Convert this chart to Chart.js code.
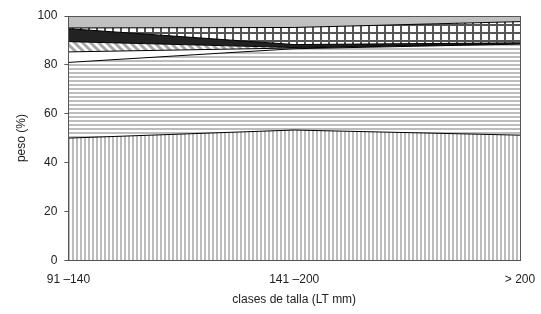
<!DOCTYPE html>
<html>
<head>
<meta charset="utf-8">
<script src="https://cdn.jsdelivr.net/npm/chart.js@4/dist/chart.umd.min.js"></script>
<style>
  html, body { margin: 0; padding: 0; background: #fff; }
  #wrap { width: 541px; height: 314px; }
</style>
</head>
<body>
<div id="wrap"><canvas id="myChart" width="541" height="314"></canvas></div>
<script>
'use strict';

// clases de talla
let categories = ['91 –140', '141 –200', '> 200'];

// peso (%) of each layer, bottom to top
let vertical = [50.0, 53.3, 51.2];
let horizontal = [31.0, 33.3, 37.3];
let blank = [4.3, 0.3, 0.1];
let hatched = [4.2, 0.2, 0.1];
let solid = [5.3, 1.2, 0.3];
let squares = [0.3, 7.0, 8.7];
let grey = [4.9, 4.7, 2.3];

let yTicks = [0, 20, 40, 60, 80, 100];


function makePattern(w, h, draw) {
    let c = document.createElement('canvas');
    c.width = w;
    c.height = h;
    let g = c.getContext('2d');
    g.fillStyle = '#fff';
    g.fillRect(0, 0, w, h);
    draw(g);
    return document.getElementById('myChart').getContext('2d').createPattern(c, 'repeat');
}

let vPattern = makePattern(4, 4, function (g) {
    g.fillStyle = '#bcbcbc';
    g.fillRect(0, 0, 2, 4);
});

let hPattern = makePattern(4, 4, function (g) {
    g.fillStyle = '#bcbcbc';
    g.fillRect(0, 0, 4, 2);
});

let dPattern = makePattern(8, 8, function (g) {
    g.strokeStyle = '#a8a8a8';
    g.lineWidth = 3;
    g.beginPath();
    g.moveTo(-1, -1); g.lineTo(9, 9);
    g.moveTo(-9, -1); g.lineTo(1, 9);
    g.moveTo(7, -1); g.lineTo(17, 9);
    g.stroke();
});

let gPattern = makePattern(8, 8, function (g) {
    g.fillStyle = '#555';
    g.fillRect(0, 0, 2, 8);
    g.fillRect(0, 0, 8, 2);
});

function layer(label, data, fill, bg) {
    return {
        label: label,
        data: data,
        fill: fill,
        backgroundColor: bg,
        borderColor: '#000',
        borderWidth: 1,
        pointRadius: 0,
        tension: 0
    };
}

let frame = {
    id: 'frame',
    afterDatasetsDraw(chart) {
        let a = chart.chartArea;
        let ctx = chart.ctx;
        ctx.save();
        ctx.strokeStyle = '#555';
        ctx.lineWidth = 1;
        ctx.strokeRect(Math.round(a.left) + 0.5, Math.round(a.top) + 0.5,
            Math.round(a.right - a.left), Math.round(a.bottom - a.top));
        ctx.restore();
    }
};

let ctx = document.getElementById('myChart').getContext('2d');

let myChart = new Chart(ctx, {
    type: 'line',
    data: {
        labels: categories,
        datasets: [
            layer('vertical', vertical, 'origin', vPattern),
            layer('horizontal', horizontal, '-1', hPattern),
            layer('blank', blank, '-1', '#fff'),
            layer('hatched', hatched, '-1', dPattern),
            layer('solid', solid, '-1', '#222'),
            layer('squares', squares, '-1', gPattern),
            layer('grey', grey, '-1', '#c0c0c0')
        ]
    },
    options: {
        responsive: false,
        animation: false,
        layout: { padding: { top: 16, right: 0, left: 14, bottom: 7 } },
        plugins: {
            legend: { display: false },
            tooltip: { enabled: false }
        },
        scales: {
            x: {
                offset: false,
                afterFit(axis) {
                    axis.paddingRight = 21;
                },
                grid: { drawOnChartArea: false, drawTicks: false },
                border: { color: '#555' },
                ticks: {
                    color: '#222',
                    padding: 12,
                    maxRotation: 0,
                    font: { family: 'Liberation Sans', size: 12 }
                },
                title: {
                    display: true,
                    text: 'clases de talla (LT mm)',
                    color: '#222',
                    padding: { top: -6, bottom: 0 },
                    font: { family: 'Liberation Sans', size: 12 }
                }
            },
            y: {
                stacked: true,
                min: 0,
                max: 100,
                afterBuildTicks(axis) {
                    axis.ticks = yTicks.map(v => ({ value: v }));
                },
                grid: { drawOnChartArea: false, drawTicks: true, tickLength: 4, color: '#555' },
                border: { color: '#555' },
                ticks: {
                    color: '#222',
                    padding: 7,
                    font: { family: 'Liberation Sans', size: 12 }
                },
                title: {
                    display: true,
                    text: 'peso (%)',
                    color: '#222',
                    padding: { top: 0, bottom: 2 },
                    font: { family: 'Liberation Sans', size: 12 }
                }
            }
        }
    },
    plugins: [frame]
});
</script>
</body>
</html>
